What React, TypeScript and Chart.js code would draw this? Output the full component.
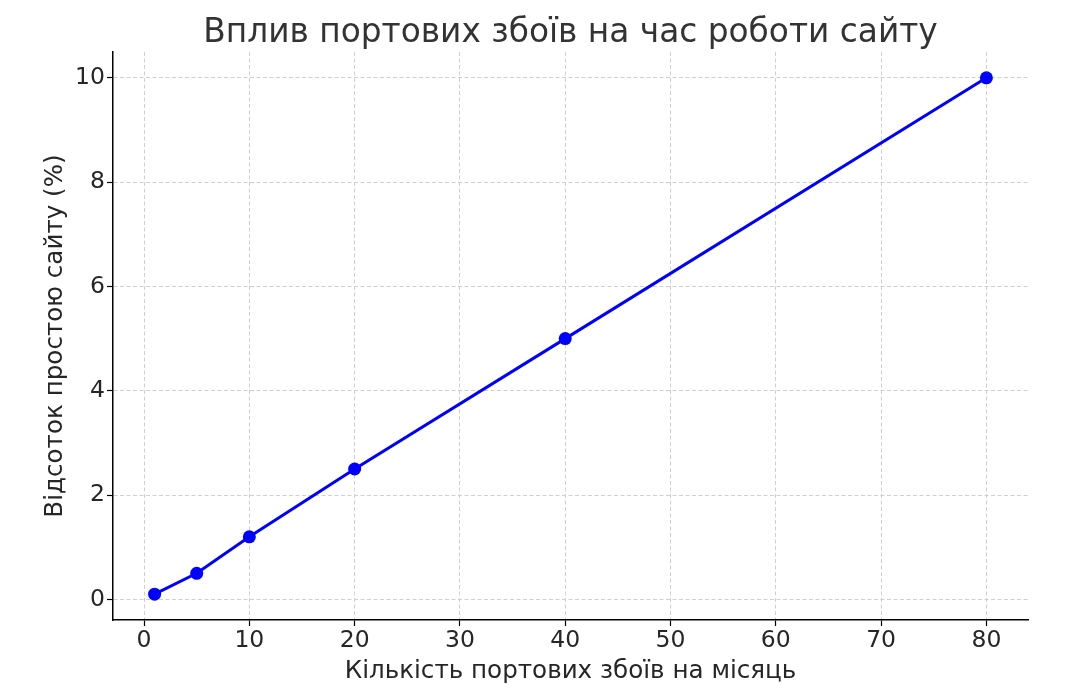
import React, { useEffect, useRef } from "react";
import { Chart, registerables } from "chart.js";

Chart.register(...registerables);

const failures = [1, 5, 10, 20, 40, 80];
const downtime = [0.1, 0.5, 1.2, 2.5, 5, 10];
const xTicks = [0, 10, 20, 30, 40, 50, 60, 70, 80];
const yTicks = [0, 2, 4, 6, 8, 10];

const titleText = "Вплив портових збоїв на час роботи сайту";
const xLabel = "Кількість портових збоїв на місяць";
const yLabel = "Відсоток простою сайту (%)";

const FONT = "'DejaVu Sans', sans-serif";
const TEXT = "#262626";

const titlePlugin = {
  id: "centeredTitle",
  afterDraw(chart: any) {
    const { ctx, chartArea } = chart;
    ctx.save();
    ctx.fillStyle = "#333333";
    ctx.font = `normal 32.8px ${FONT}`;
    ctx.textAlign = "center";
    ctx.textBaseline = "alphabetic";
    ctx.fillText(titleText, (chartArea.left + chartArea.right) / 2, 42);
    ctx.restore();
  },
};

export default function App() {
  const ref = useRef<HTMLCanvasElement | null>(null);
  useEffect(() => {
    if (!ref.current) return;
    const gridOpts = {
      color: "#cfcfcf",
      lineWidth: 1,
      tickLength: 6,
      tickColor: "#000000",
      tickBorderDash: [],
      tickWidth: 1.2,
    };
    const chart = new Chart(ref.current, {
      type: "line",
      data: {
        datasets: [
          {
            data: failures.map((x, i) => ({ x, y: downtime[i] })),
            borderColor: "#0000ff",
            backgroundColor: "#0000ff",
            borderWidth: 3,
            pointRadius: 6.5,
            pointHoverRadius: 6.5,
            pointBorderWidth: 0,
            tension: 0,
          },
        ],
      },
      plugins: [titlePlugin],
      options: {
        animation: false,
        responsive: false,
        maintainAspectRatio: false,
        events: [],
        layout: { padding: { left: 0, right: 42, top: 52, bottom: 0 } },
        plugins: {
          legend: { display: false },
          tooltip: { enabled: false },
          title: { display: false },
        },
        scales: {
          x: {
            type: "linear",
            min: -2.95,
            max: 83.95,
            afterBuildTicks: (axis: any) => {
              axis.ticks = xTicks.map((v) => ({ value: v }));
            },
            afterFit: (axis: any) => {
              axis.height = 80;
            },
            ticks: {
              color: TEXT,
              font: { family: FONT, size: 23.5 },
              padding: 1,
              maxRotation: 0,
            },
            grid: gridOpts,
            border: { display: true, color: "#000000", width: 1.5, dash: [4, 2.5] },
            title: {
              display: true,
              text: xLabel,
              color: TEXT,
              font: { family: FONT, size: 24.6 },
              padding: { top: 0, bottom: 14 },
            },
          },
          y: {
            type: "linear",
            min: -0.395,
            max: 10.495,
            afterBuildTicks: (axis: any) => {
              axis.ticks = yTicks.map((v) => ({ value: v }));
            },
            afterFit: (axis: any) => {
              axis.width = 113;
            },
            ticks: {
              color: TEXT,
              font: { family: FONT, size: 23.5 },
              padding: 2,
            },
            grid: gridOpts,
            border: { display: true, color: "#000000", width: 1.5, dash: [4, 2.5] },
            title: {
              display: true,
              text: yLabel,
              color: TEXT,
              font: { family: FONT, size: 24.6 },
              padding: { top: 40.5, bottom: 0 },
            },
          },
        },
      },
    });
    return () => chart.destroy();
  }, []);
  return (
    <div style={{ position: "fixed", left: 0, top: 0, width: 1070, height: 700, background: "#fff" }}>
      <canvas ref={ref} width={1070} height={700} style={{ width: 1070, height: 700 }} />
    </div>
  );
}
